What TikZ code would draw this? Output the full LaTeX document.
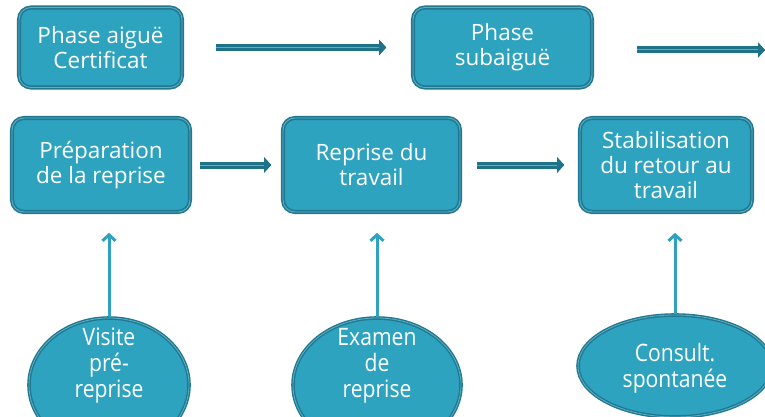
\documentclass[tikz,border=0pt]{standalone}
\usepackage{fontspec}
\setmainfont{Open Sans}
\newfontfamily\condfont[FakeStretch=0.88]{Open Sans}
\usetikzlibrary{arrows.meta,shapes.geometric}
\definecolor{fillc}{HTML}{2EA3BF}
\definecolor{edgec}{HTML}{21788F}
\definecolor{edgelight}{HTML}{5AAFC8}
\definecolor{arrowc}{HTML}{1F7389}
\definecolor{varc}{HTML}{2FA2C1}
\begin{document}
\begin{tikzpicture}[x=1pt,y=-1pt,
  box/.style={rectangle, rounded corners=12pt, fill=fillc, draw=edgec, line width=1.6pt,
    double=edgelight, double distance=0.9pt, text=white, align=center,
    font=\fontsize{22.5}{25}\selectfont, inner sep=0pt},
  ell/.style={ellipse, fill=fillc, draw=edgec, line width=1.4pt, double=edgelight,
    double distance=0.8pt, inner sep=0pt},
  elltext/.style={text=white, align=center, font=\condfont\fontsize{24}{26}\selectfont, inner sep=0pt},
  harrow/.style={draw=arrowc, line width=7pt, -{Triangle[width=15pt,length=7pt]},
    postaction={draw=edgelight, line width=1pt, -{Triangle[width=15pt,length=7pt,color=arrowc]}}},
  varrow/.style={draw=varc, line width=3pt, -{Straight Barb[width=13pt,length=6pt]}}
]
\useasboundingbox (0,0) rectangle (765,417);
\clip (0,0) rectangle (765,417);
\fill[white] (0,0) rectangle (765,417);

% top row
\node[box, minimum width=163pt, minimum height=80pt] (A) at (100.5,47.5) {Phase aiguë\\Certificat};
\node[box, minimum width=179pt, minimum height=80pt] (B) at (502.5,47.5) {Phase\\subaiguë};
\coordinate (R) at (765,50);

% middle row
\node[box, minimum width=178pt, minimum height=94pt] (C) at (101,165) {Préparation\\de la reprise};
\node[box, minimum width=177pt, minimum height=94pt] (D) at (371.5,165) {Reprise du\\travail};
\node[box, minimum width=172pt, minimum height=94pt] (E) at (666,165) {Stabilisation\\du retour au\\travail};

% ellipses
\node[ell, minimum width=160pt, minimum height=134pt] (E1) at (109,385) {};
\node[elltext] (T1) at (109,366) {Visite\\pré-\\reprise};
\node[ell, minimum width=168pt, minimum height=134pt] (E2) at (377,385) {};
\node[elltext] (T2) at (377,366) {Examen\\de\\reprise};
\node[ell, minimum width=194pt, minimum height=102pt] (E3) at (675,366) {};
\node[elltext] (T3) at (675,368) {Consult.\\spontanée};

% horizontal arrows
\draw[harrow, shorten <=33pt, shorten >=26pt, yshift=2.5pt] (A.east) -- (B.west);
\draw[harrow, shorten <=44pt] (B.east |- R) -- (R);
\draw[harrow, shorten <=9pt, shorten >=11pt, yshift=3pt] (C.east) -- (D.west);
\draw[harrow, shorten <=16pt, shorten >=15pt, yshift=3pt] (D.east) -- (E.west);

% vertical arrows
\draw[varrow, shorten >=20pt] (E1.north) -- (E1.north |- C.south);
\draw[varrow, shorten >=20pt] (E2.north) -- (E2.north |- D.south);
\draw[varrow, shorten >=20pt] (E3.north) -- (E3.north |- E.south);
\end{tikzpicture}
\end{document}
